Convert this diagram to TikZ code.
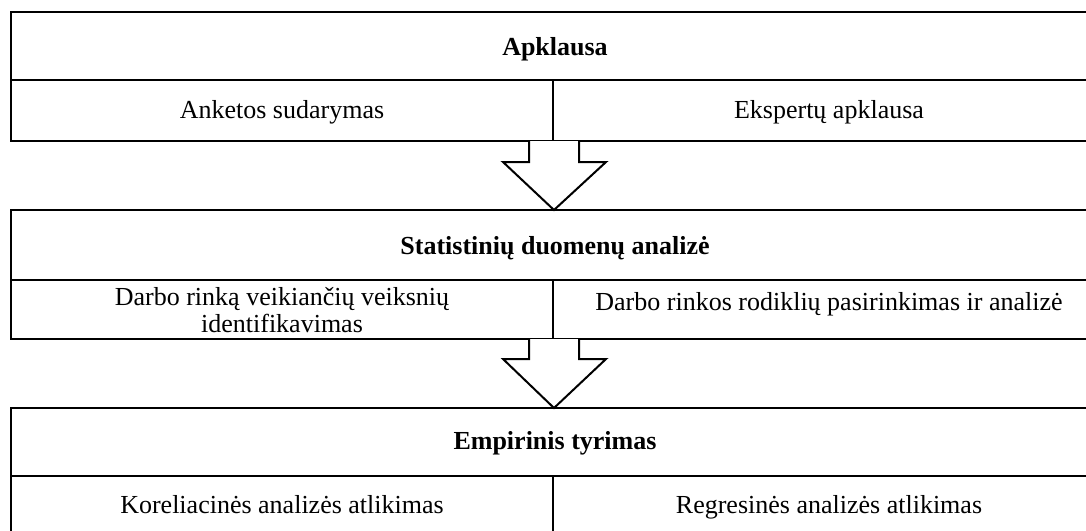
\documentclass[tikz,border=0pt]{standalone}
\usepackage{fontspec}
\setmainfont{Liberation Serif}
\begin{document}
\begin{tikzpicture}[x=1pt,y=-1pt,line width=2pt,line join=miter,
  lbl/.style={font=\fontsize{26}{27}\selectfont,anchor=base,inner sep=0pt,align=center},
  hdr/.style={lbl,font=\fontsize{26}{27}\selectfont\bfseries},
  frame/.style={draw=black,line width=2pt},
  blockarrow/.style={draw=black,line width=2pt,fill=white}]
\useasboundingbox (0,0) rectangle (1086,530);
\clip (0,0) rectangle (1086,530);
% box 1
\draw[frame] (11,12) rectangle (1106,141);
\draw[frame] (11,80) -- (1106,80);
\draw[frame] (553,80) -- (553,141);
% box 2
\draw[frame] (11,210) rectangle (1106,339);
\draw[frame] (11,280) -- (1106,280);
\draw[frame] (553,280) -- (553,339);
% box 3
\draw[frame] (11,408) rectangle (1106,570);
\draw[frame] (11,476) -- (1106,476);
\draw[frame] (553,476) -- (553,570);
% arrow anchors
\coordinate (b1s) at (554,141);
\coordinate (b2n) at (554,210);
\coordinate (b2s) at (554,339);
\coordinate (b3n) at (554,408);
% arrows
\draw[blockarrow] (b1s) ++(-25,0) -- ++(0,21) -- ++(-26,0) -- (b2n) -- ++(52,-48) -- ++(-27,0) -- ++(0,-21);
\draw[blockarrow] (b2s) ++(-25,0) -- ++(0,20) -- ++(-26,0) -- (b3n) -- ++(52,-49) -- ++(-27,0) -- ++(0,-20);
% texts
\node[hdr] (t1) at (555,55) {Apklausa};
\node[lbl] (t1a) at (282,118) {Anketos sudarymas};
\node[lbl] (t1b) at (829,118) {Ekspertų apklausa};
\node[hdr] (t2) at (555,254) {Statistinių duomenų analizė};
\node[lbl] (t2a) at (282,332) {Darbo rinką veikiančių veiksnių\\identifikavimas};
\node[lbl] (t2b) at (829,310) {Darbo rinkos rodiklių pasirinkimas ir analizė};
\node[hdr] (t3) at (555,449) {Empirinis tyrimas};
\node[lbl] (t3a) at (282,513) {Koreliacinės analizės atlikimas};
\node[lbl] (t3b) at (829,513) {Regresinės analizės atlikimas};
\end{tikzpicture}
\end{document}
